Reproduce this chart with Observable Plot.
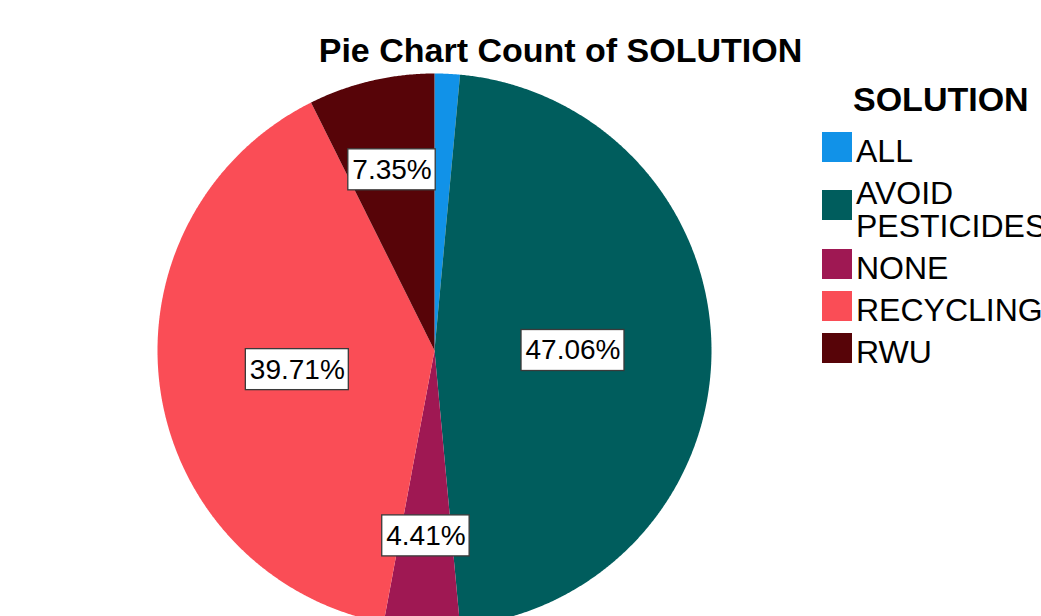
<!DOCTYPE html>
<html>
<head>
<meta charset="utf-8">
<script src="https://cdn.jsdelivr.net/npm/d3@7"></script>
<script src="https://cdn.jsdelivr.net/npm/@observablehq/plot@0.6"></script>
<style>
  html, body { margin: 0; padding: 0; background: #fff; overflow: hidden; }
  #wrap { position: relative; width: 1041px; height: 616px; overflow: hidden; font-family: "Liberation Sans", Arial, sans-serif; }
  #chart { position: absolute; left: 0; top: 0; }
  #title { position: absolute; left: 0; width: 1121px; top: 33px; text-align: center; font-weight: bold; font-size: 34px; line-height: 34px; color: #000; white-space: nowrap; }
  #legend { position: absolute; left: 822px; top: 82px; color: #000; }
  #legend .lt { font-weight: bold; font-size: 34px; line-height: 34px; margin-left: 31px; margin-bottom: 19px; white-space: nowrap; }
  #legend .item { display: flex; align-items: center; margin-bottom: 9px; }
  #legend .sw { width: 30px; height: 30px; flex: none; margin-right: 4px; position: relative; top: -5px; }
  #legend .lab { font-size: 32px; line-height: 33px; width: 175px; white-space: normal; }
</style>
</head>
<body>
<div id="wrap">
  <div id="chart"></div>
  <div id="title"></div>
  <div id="legend"></div>
</div>
<script>
const titleText = "Pie Chart Count of SOLUTION";
const legendTitle = "SOLUTION";
const categories = ["ALL", "AVOID PESTICIDES", "NONE", "RECYCLING", "RWU"];
const counts = [1, 32, 3, 27, 5];
const colors = ["#1192e8", "#005d5d", "#9f1853", "#fa4d56", "#570408"];

// layout (pixels)
const W = 1041, H = 616, CX = 434, CY = 350, R = 277;

const total = d3.sum(counts);
const data = categories.map((c, i) => ({category: c, count: counts[i], share: counts[i] / total}));
const arcs = d3.pie().sort(null).value(d => d.count)(data);

// polygon points for each slice (unit radius, y up)
const poly = [];
for (const a of arcs) {
  const cat = a.data.category;
  poly.push({category: cat, x: 0, y: 0});
  const n = Math.max(2, Math.ceil((a.endAngle - a.startAngle) / 0.005));
  for (let k = 0; k <= n; k++) {
    const t = a.startAngle + (a.endAngle - a.startAngle) * k / n;
    poly.push({category: cat, x: Math.sin(t), y: Math.cos(t)});
  }
  poly.push({category: cat, x: 0, y: 0});
}

// labels
const canvas = document.createElement("canvas");
const ctx = canvas.getContext("2d");
ctx.font = "28px 'Liberation Sans', Arial, sans-serif";
const labels = arcs.filter(a => a.data.share >= 0.02).map(a => {
  const mid = (a.startAngle + a.endAngle) / 2;
  const f = a.data.share > 0.2 ? 0.5 : 0.67;
  const text = (a.data.share * 100).toFixed(2) + "%";
  const w = ctx.measureText(text).width + 8;
  const h = 41;
  const x = f * Math.sin(mid), y = f * Math.cos(mid);
  return {text, x, y, x1: x - w / 2 / R, x2: x + w / 2 / R, y1: y - h / 2 / R, y2: y + h / 2 / R};
});

const plot = Plot.plot({
  width: W,
  height: H,
  margin: 0,
  style: {background: "transparent", fontFamily: "'Liberation Sans', Arial, sans-serif"},
  x: {domain: [-CX / R, (W - CX) / R], axis: null},
  y: {domain: [-(H - CY) / R, CY / R], axis: null},
  color: {domain: categories, range: colors},
  marks: [
    Plot.line(poly, {x: "x", y: "y", z: "category", fill: "category", stroke: "none", curve: "linear"}),
    Plot.rect(labels, {x1: "x1", x2: "x2", y1: "y1", y2: "y2", fill: "white", stroke: "#3a3a3a", strokeWidth: 1.3}),
    Plot.text(labels, {x: "x", y: "y", text: "text", fontSize: 28, fill: "#000", textAnchor: "middle", lineAnchor: "middle"})
  ]
});
document.getElementById("chart").appendChild(plot);

document.getElementById("title").textContent = titleText;
const lg = document.getElementById("legend");
const lt = document.createElement("div");
lt.className = "lt";
lt.textContent = legendTitle;
lg.appendChild(lt);
categories.forEach((c, i) => {
  const item = document.createElement("div");
  item.className = "item";
  const sw = document.createElement("div");
  sw.className = "sw";
  sw.style.background = colors[i];
  const lab = document.createElement("div");
  lab.className = "lab";
  lab.textContent = c;
  item.appendChild(sw);
  item.appendChild(lab);
  lg.appendChild(item);
});
</script>
</body>
</html>
